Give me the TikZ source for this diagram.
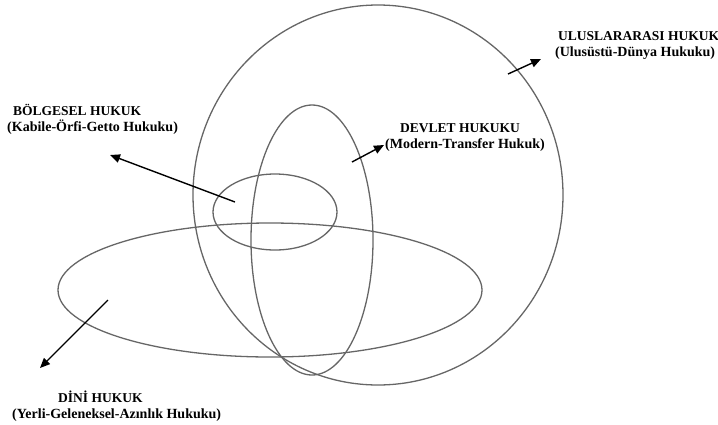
\documentclass[tikz,border=0pt]{standalone}
\usepackage{fontspec}
\setmainfont{Liberation Serif}
\usetikzlibrary{arrows.meta, shapes.geometric}

\begin{document}
\begin{tikzpicture}[x=1pt, y=-1pt,
		ring/.style={draw=black!60, line width=1.3pt, ellipse, inner sep=0pt},
		pointer/.style={-{Triangle[length=10pt, width=8.5pt]}, line width=1.4pt},
		caption/.style={font=\bfseries\fontsize{13.5}{16}\selectfont, inner sep=0pt, anchor=base west},
		subcaption/.style={caption, font=\bfseries\fontsize{14}{16}\selectfont}]
		\useasboundingbox (0,0) rectangle (718,424);
		% the four fields of law
		\node[ring, minimum width=370pt, minimum height=380pt] (ulus) at (378,195) {};
		\node[ring, minimum width=424pt, minimum height=134pt] (dini) at (270,290) {};
		\node[ring, minimum width=122pt, minimum height=270pt] (devlet) at (312,240) {};
		\node[ring, minimum width=124pt, minimum height=76pt] (bolge) at (275,212) {};
		% labels
		\node[caption] (bolgeTitle) at (13,115) {BÖLGESEL HUKUK};
		\node[subcaption] (bolgeSub) at (7,131) {(Kabile-Örfi-Getto Hukuku)};
		\node[caption] (devletTitle) at (400,132) {DEVLET HUKUKU};
		\node[subcaption] (devletSub) at (385,148) {(Modern-Transfer Hukuk)};
		\node[caption] (ulusTitle) at (558,40) {ULUSLARARASI HUKUK};
		\node[subcaption] (ulusSub) at (555,56) {(Ulusüstü-Dünya Hukuku)};
		\node[caption] (diniTitle) at (58,402) {DİNİ HUKUK};
		\node[subcaption] (diniSub) at (12,418) {(Yerli-Geleneksel-Azınlık Hukuku)};
		% arrows out to the labels
		\coordinate (bolgeTail) at (235,202);
		\coordinate (bolgeTip) at (110,155);
		\coordinate (devletTail) at (352,162);
		\coordinate (devletTip) at (384,145);
		\coordinate (ulusTail) at (508,74);
		\coordinate (ulusTip) at (541,59);
		\coordinate (diniTail) at (108,300);
		\coordinate (diniTip) at (40,368);
		\draw[pointer] (bolgeTail) -- (bolgeTip);
		\draw[pointer] (devletTail) -- (devletTip);
		\draw[pointer] (ulusTail) -- (ulusTip);
		\draw[pointer] (diniTail) -- (diniTip);
	\end{tikzpicture}
\end{document}
